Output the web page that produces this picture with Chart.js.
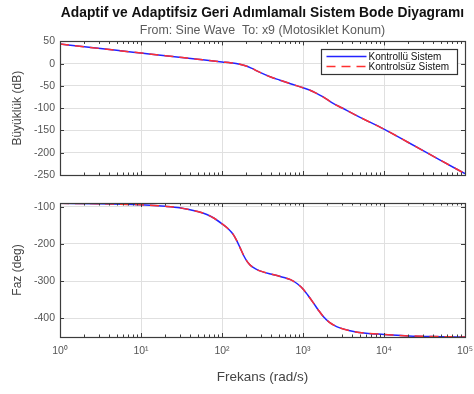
<!DOCTYPE html>
<html><head><meta charset="utf-8">
<script src="https://cdn.jsdelivr.net/npm/chart.js@4.4.1/dist/chart.umd.min.js"></script>
<style>
html,body{margin:0;padding:0;background:#fff;}
#wrap{position:relative;width:474px;height:394px;overflow:hidden;}
</style></head><body>
<div id="wrap">
<canvas id="c1" width="474" height="185" style="position:absolute;left:0;top:0"></canvas>
<canvas id="c2" width="474" height="209" style="position:absolute;left:0;top:185px"></canvas>
</div>
<script>
// ---- data ----
const magFreq = [1, 2, 5, 10, 20, 50, 100, 130, 160, 190, 230, 290, 400, 520, 700, 1000, 1200, 1450, 1750, 2300, 3000, 5000, 10000, 20000, 50000, 100000];
const magControlled   = [44, 38, 30, 24, 18, 10, 4, 1.8, -0.5, -4, -10, -19, -30, -37, -45, -54, -59, -66, -74, -88, -99, -120, -147, -177, -217, -247];
const magUncontrolled = [44, 38, 30, 24, 18, 10, 4, 1.8, -0.5, -4, -10, -19, -30, -37, -45, -54, -59, -66, -74, -88, -99, -120, -147, -177, -217, -247];
const phaseFreq = [1, 3, 10, 20, 30, 50, 65, 80, 100, 120, 138, 152, 167, 185, 200, 215, 235, 260, 300, 400, 500, 600, 700, 850, 1000, 1150, 1350, 1550, 1780, 2100, 2600, 3800, 6000, 10000, 20000, 50000, 100000];
const phaseControlled   = [-91, -92, -95, -99, -103, -113, -121, -131, -146, -160, -175, -191, -210, -231, -244, -253, -261, -267, -273, -281, -286, -291, -296, -307, -321, -338, -359, -378, -395, -410, -422, -433, -440, -443, -447, -449, -450];
const phaseUncontrolled = [-91, -92, -95, -99, -103, -113, -121, -131, -146, -160, -175, -191, -210, -231, -244, -253, -261, -267, -273, -281, -286, -291, -296, -307, -321, -338, -359, -378, -395, -410, -422, -433, -440, -443, -447, -449, -450];
const seriesLabels = ['Kontrollü Sistem', 'Kontrolsüz Sistem'];
const decadeTicks = [1, 10, 100, 1000, 10000, 100000];
const decadeLabels = ['10⁰', '10¹', '10²', '10³', '10⁴', '10⁵'];
const magTicks = [50, 0, -50, -100, -150, -200, -250];
const phaseTicks = [-100, -200, -300, -400];

const FONT = 'Liberation Sans, Arial, Helvetica, sans-serif';
const GRID = '#e0e0e0';
const BOX = '#3c3c3c';

function pts(xs, ys){ return xs.map((x,i)=>({x:x, y:ys[i]})); }

function datasets(xs, a, b){
  return [
    {label: seriesLabels[0], data: pts(xs,a), borderColor:'#2323ff', borderWidth:1.5, pointRadius:0, cubicInterpolationMode:'monotone', order:2},
    {label: seriesLabels[1], data: pts(xs,b), borderColor:'#ff3030', borderWidth:1.5, borderDash:[9,6], pointRadius:0, cubicInterpolationMode:'monotone', order:1}
  ];
}

const framePlugin = {
  id:'frame',
  afterDraw(chart){
    const {ctx, chartArea:a, scales} = chart;
    const x = scales.x, y = scales.y;
    ctx.save();
    ctx.strokeStyle = BOX; ctx.lineWidth = 1;
    ctx.beginPath();
    for (const d of decadeTicks){
      for (let m=2;m<=9;m++){
        const v = d*m; if (v > x.max) continue;
        const px = Math.round(x.getPixelForValue(v))+0.5;
        ctx.moveTo(px,a.top); ctx.lineTo(px,a.top+2.5);
        ctx.moveTo(px,a.bottom); ctx.lineTo(px,a.bottom-2.5);
      }
      const px = Math.round(x.getPixelForValue(d))+0.5;
      ctx.moveTo(px,a.top); ctx.lineTo(px,a.top+4);
      ctx.moveTo(px,a.bottom); ctx.lineTo(px,a.bottom-4);
    }
    for (const t of y.ticks){
      const py = Math.round(y.getPixelForValue(t.value))+0.5;
      ctx.moveTo(a.left,py); ctx.lineTo(a.left+4,py);
      ctx.moveTo(a.right,py); ctx.lineTo(a.right-4,py);
    }
    ctx.stroke();
    ctx.lineWidth = 1.2;
    ctx.strokeRect(Math.round(a.left)+0.5, Math.round(a.top)+0.5, Math.round(a.right-a.left), Math.round(a.bottom-a.top));
    ctx.restore();
  }
};

const legendPlugin = {
  id:'boxLegend',
  afterDraw(chart){
    const {ctx, chartArea:a} = chart;
    const w = 136, h = 25;
    const bx = Math.round(a.right - 8 - w)+0.5, by = Math.round(a.top + 8)+0.5;
    ctx.save();
    ctx.fillStyle = '#fff'; ctx.fillRect(bx,by,w,h);
    ctx.strokeStyle = '#333'; ctx.lineWidth = 1.2; ctx.strokeRect(bx,by,w,h);
    ctx.font = '10px ' + FONT; ctx.textBaseline = 'middle'; ctx.fillStyle = '#111';
    const ds = chart.data.datasets;
    ds.forEach((d,i)=>{
      const ly = by + 7 + i*10;
      ctx.strokeStyle = d.borderColor; ctx.lineWidth = 1.5;
      ctx.setLineDash(d.borderDash || []);
      ctx.beginPath(); ctx.moveTo(bx+5, ly); ctx.lineTo(bx+45, ly); ctx.stroke();
      ctx.setLineDash([]);
      ctx.fillText(d.label, bx+47, ly+0.5);
    });
    ctx.restore();
  }
};

function xScale(showLabels){
  return {
    type:'logarithmic', min:1, max:100000,
    afterBuildTicks: s => { s.ticks = decadeTicks.map(v=>({value:v})); },
    ticks:{ display:showLabels, autoSkip:false, maxRotation:0, color:'#555', font:{size:10.5, family:FONT}, padding:8,
      callback:(v)=> decadeLabels[decadeTicks.indexOf(v)] },
    grid:{ color:GRID, drawTicks:false },
    border:{ display:false },
    title: showLabels ? { display:true, text:'Frekans (rad/s)', color:'#444', font:{size:13.5, family:FONT}, padding:{top:0,bottom:9} } : {display:false},
    afterFit: s => { s.height = showLabels ? 57 : 10; s.paddingLeft = 0; s.paddingRight = 0; }
  };
}

function yScale(min, max, ticks, label){
  return {
    min:min, max:max,
    afterBuildTicks: s => { s.ticks = ticks.map(v=>({value:v})); },
    ticks:{ color:'#555', font:{size:10.5, family:FONT}, padding:5 },
    grid:{ color:GRID, drawTicks:false },
    border:{ display:false },
    title:{ display:true, text:label, color:'#444', font:{size:12, family:FONT}, padding:{top:10,bottom:0} },
    afterFit: s => { s.width = 60; s.paddingTop = 0; s.paddingBottom = 0; }
  };
}

new Chart(document.getElementById('c1'), {
  type:'line',
  data:{ datasets: datasets(magFreq, magControlled, magUncontrolled) },
  options:{
    responsive:false, animation:false, devicePixelRatio:1,
    layout:{ padding:{left:0, right:9, top:0, bottom:0} },
    plugins:{
      legend:{display:false}, tooltip:{enabled:false},
      title:{ display:true, fullSize:false, text:'Adaptif ve Adaptifsiz Geri Adımlamalı Sistem Bode Diyagramı', color:'#111', font:{size:13.8, weight:'bold', family:FONT}, padding:{top:5,bottom:2} },
      subtitle:{ display:true, fullSize:false, text:'From: Sine Wave  To: x9 (Motosiklet Konum)', color:'#5a5a5a', font:{size:12.4, family:FONT}, padding:{top:0,bottom:3} }
    },
    scales:{ x: xScale(false), y: yScale(-250, 50, magTicks, 'Büyüklük (dB)') }
  },
  plugins:[framePlugin, legendPlugin]
});

new Chart(document.getElementById('c2'), {
  type:'line',
  data:{ datasets: datasets(phaseFreq, phaseControlled, phaseUncontrolled) },
  options:{
    responsive:false, animation:false, devicePixelRatio:1,
    layout:{ padding:{left:0, right:9, top:18, bottom:0} },
    plugins:{ legend:{display:false}, tooltip:{enabled:false} },
    scales:{ x: xScale(true), y: yScale(-450, -90, phaseTicks, 'Faz (deg)') }
  },
  plugins:[framePlugin]
});
</script>
</body></html>
